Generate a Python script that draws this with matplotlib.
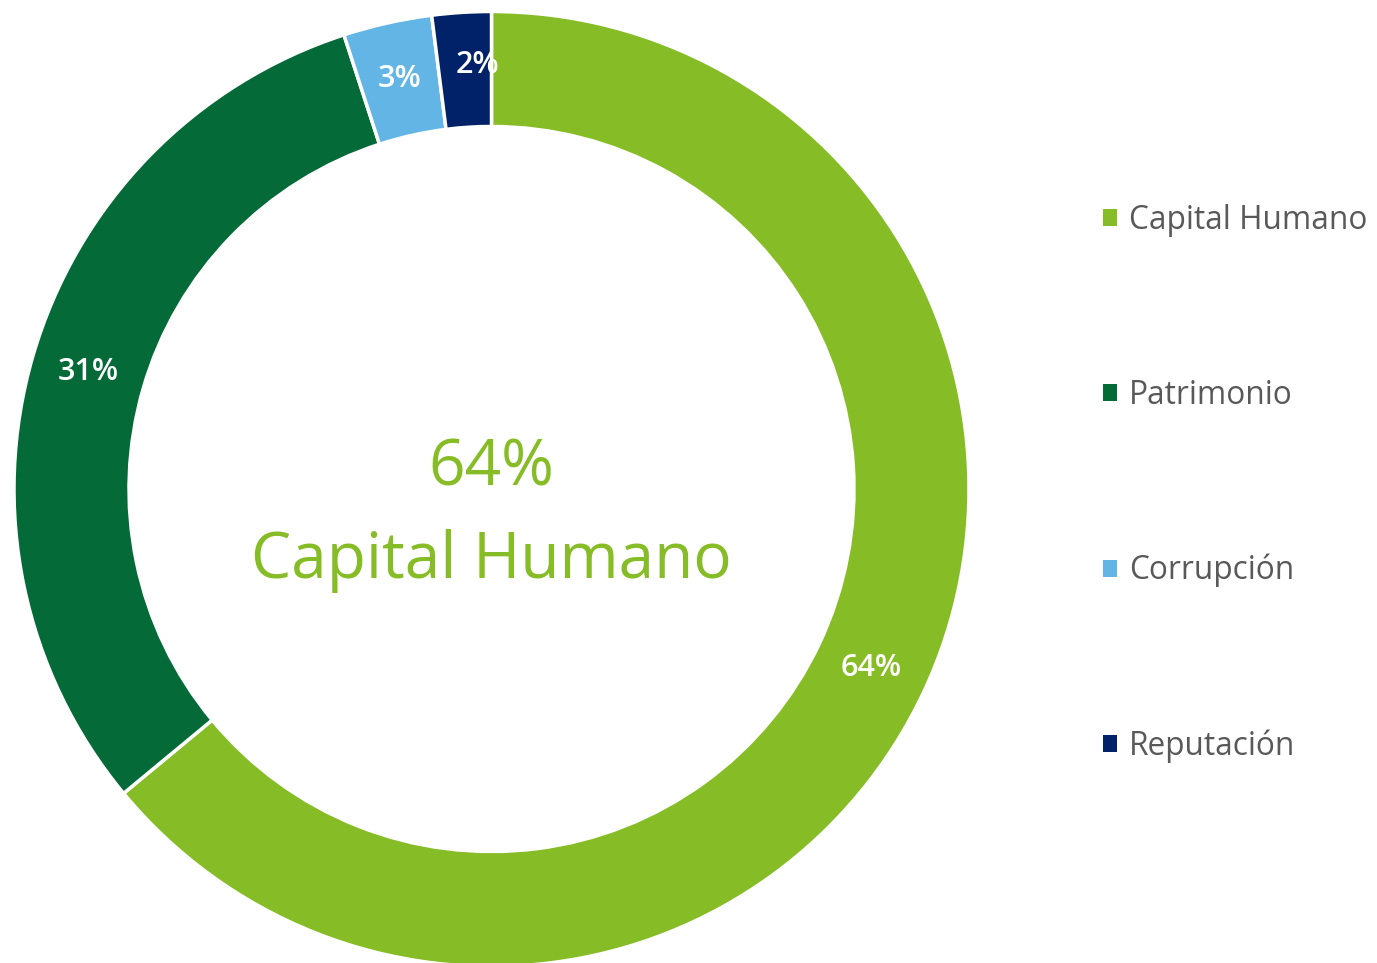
import matplotlib.pyplot as plt
from matplotlib.patches import Patch

plt.rcParams['font.family'] = ['Open Sans', 'DejaVu Sans']

# datos
categorias = ["Capital Humano", "Patrimonio", "Corrupción", "Reputación"]
valores = [64, 31, 3, 2]
colores = ["#86BC25", "#046A38", "#62B5E5", "#012169"]

W, H = 1377, 963
fig = plt.figure(figsize=(W / 100, H / 100), dpi=100)
ax = fig.add_axes([0, 0, 1, 1])

radio = 477.5
ancho = 115
centro = (491.5, H - 489)

wedges, textos, autotextos = ax.pie(
    valores, radius=radio, center=centro, startangle=90, counterclock=False,
    colors=colores, autopct='%1.0f%%', pctdistance=(radio - ancho / 2) / radio,
    wedgeprops=dict(width=ancho, edgecolor='white', linewidth=2.5),
    textprops=dict(color='white', fontsize=22, fontweight='semibold'))

# la etiqueta del 2% va un poco desplazada a la derecha
x, y = autotextos[3].get_position()
autotextos[3].set_position((x + 12, y + 5))

ax.set_xlim(0, W)
ax.set_ylim(0, H)
ax.set_aspect('equal')
ax.axis('off')

# texto central
ax.text(centro[0], H - 485, "64%", color="#86BC25", fontsize=46,
        ha='center', va='baseline')
ax.text(centro[0], H - 578, "Capital Humano", color="#86BC25", fontsize=46,
        ha='center', va='baseline')

handles = [Patch(facecolor=c, edgecolor='none') for c in colores]
fig.legend(handles, categorias, loc='center left', bbox_to_anchor=(1103 / W, 0.498),
           frameon=False, fontsize=22.8, labelcolor='#595959', borderpad=0,
           borderaxespad=0, handlelength=0.45, handleheight=0.45,
           handletextpad=0.38, labelspacing=4.48)

fig.savefig("out.png", dpi=100)
